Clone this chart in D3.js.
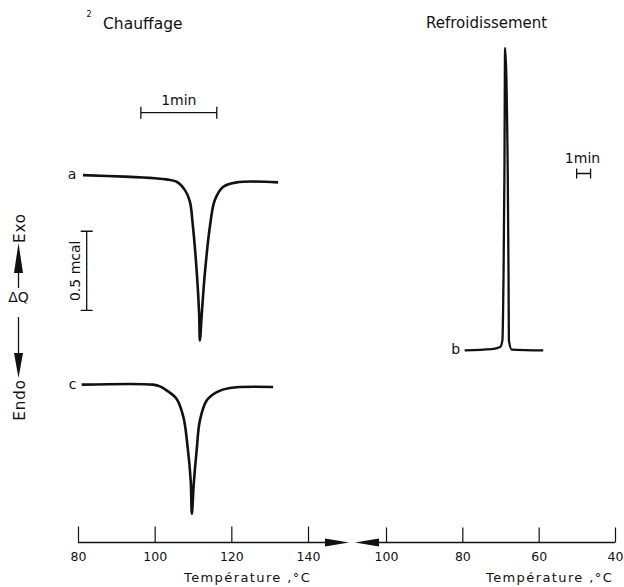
<!DOCTYPE html>
<html><head><meta charset="utf-8">
<script src="https://cdn.jsdelivr.net/npm/d3@7"></script>
<style>
body{margin:0;background:#fff}
svg{display:block}
text{font-family:"DejaVu Sans",sans-serif;fill:#111}
</style>
</head><body><svg id="c" width="624" height="587"></svg>
<script>
// ---- data ----
const heatTicks = [80, 100, 120, 140];
const coolTicks = [100, 80, 60, 40];
// curve a (heating), temperature °C / ΔQ (mcal, arbitrary offset)
const curveA_T = [81.3, 92.3, 100.0, 103.1, 105.7, 107.9, 109.2, 109.9, 111.0, 111.6, 111.8, 112.3, 113.1, 114.4, 115.7, 117.9, 121.4, 132.2];
const curveA_Q = [2.323, 2.313, 2.303, 2.296, 2.281, 2.228, 2.154, 2.019, 1.703, 1.449, 1.278, 1.449, 1.703, 1.996, 2.165, 2.249, 2.277, 2.277];
// curve c (heating)
const curveC_T = [80.96, 99.6, 101.4, 103.1, 105.7, 107.5, 108.6, 109.4, 109.7, 110.2, 110.95, 111.8, 113.6, 116.2, 119.6, 130.9];
const curveC_Q = [0.998, 0.998, 0.987, 0.962, 0.909, 0.793, 0.603, 0.392, 0.182, 0.372, 0.582, 0.772, 0.899, 0.951, 0.977, 0.983];
// curve b (cooling)
const curveB_T = [79.4, 72.3, 70.1, 69.5, 69.2, 68.97, 68.8, 68.1, 67.9, 67.8, 67.06, 58.8];
const curveB_Q = [1.215, 1.222, 1.236, 1.278, 1.703, 2.335, 3.127, 2.335, 1.703, 1.278, 1.220, 1.215];
const curveLabels = ["a", "b", "c"];
const titles = ["Chauffage", "Refroidissement"];
const axisTitle = "Température ,°C";

// ---- scales ----
const svg = d3.select("#c");
const xH = d3.scaleLinear().domain([80, 140]).range([78, 308]);
const xC = d3.scaleLinear().domain([100, 40]).range([386, 615]);
const y = d3.scaleLinear().domain([0, 3.43]).range([542.5, 0]);
const axisY = y(0);
const ink = "#111";

const zip = (T, Q) => T.map((t, i) => ({t, q: Q[i]}));
const lineH = d3.line().x(d => xH(d.t)).y(d => y(d.q)).curve(d3.curveCatmullRom.alpha(0.5));
const lineC = d3.line().x(d => xC(d.t)).y(d => y(d.q)).curve(d3.curveMonotoneX);

const dataA = zip(curveA_T, curveA_Q);
const dataC = zip(curveC_T, curveC_Q);
const dataB = zip(curveB_T, curveB_Q);

svg.append("path").datum(dataA).attr("d", lineH).attr("fill", "none").attr("stroke", ink).attr("stroke-width", 2.6).attr("stroke-linejoin", "round");
svg.append("path").datum(dataC).attr("d", lineH).attr("fill", "none").attr("stroke", ink).attr("stroke-width", 2.6).attr("stroke-linejoin", "round");
svg.append("path").datum(dataB).attr("d", lineC).attr("fill", "none").attr("stroke", ink).attr("stroke-width", 2.3).attr("stroke-linejoin", "round");

// curve labels
svg.append("text").text(curveLabels[0]).attr("x", xH(dataA[0].t) - 11).attr("y", y(dataA[0].q) + 4).attr("text-anchor", "middle").style("font-size", "14px");
svg.append("text").text(curveLabels[1]).attr("x", xC(dataB[0].t) - 9).attr("y", y(dataB[0].q) + 4).attr("text-anchor", "middle").style("font-size", "14px");
svg.append("text").text(curveLabels[2]).attr("x", xH(dataC[0].t) - 9).attr("y", y(dataC[0].q) + 4).attr("text-anchor", "middle").style("font-size", "14px");

// ---- axes ----
function styleAxis(g) {
  g.select(".domain").remove();
  g.selectAll(".tick line").attr("stroke", ink).attr("stroke-width", 1.2);
  g.selectAll(".tick text").style("font-size", "12.5px").style("font-family", "DejaVu Sans").attr("fill", ink);
}
svg.append("g").attr("transform", `translate(0,${axisY})`)
  .call(d3.axisBottom(xH).tickValues(heatTicks).tickSize(-16).tickPadding(10).tickFormat(d3.format("d")))
  .call(styleAxis);
svg.append("g").attr("transform", `translate(0,${axisY})`)
  .call(d3.axisBottom(xC).tickValues(coolTicks).tickSize(-15).tickPadding(10).tickFormat(d3.format("d")))
  .call(styleAxis);

// axis base lines and break arrows
svg.append("line").attr("x1", xH(80)).attr("x2", 326).attr("y1", axisY).attr("y2", axisY).attr("stroke", ink).attr("stroke-width", 1.3);
svg.append("line").attr("x1", 378).attr("x2", xC(40)).attr("y1", axisY).attr("y2", axisY).attr("stroke", ink).attr("stroke-width", 1.3);
svg.append("path").attr("d", `M325,${axisY - 4}L349,${axisY}L325,${axisY + 4}Z`).attr("fill", ink);
svg.append("path").attr("d", `M379,${axisY - 4}L355,${axisY}L379,${axisY + 4}Z`).attr("fill", ink);

// axis titles
svg.append("text").text(axisTitle).attr("x", 184).attr("y", 582).style("font-size", "13px").style("letter-spacing", "1.4px");
svg.append("text").text(axisTitle).attr("x", 486).attr("y", 582).style("font-size", "13px").style("letter-spacing", "1.4px");

// panel titles
svg.append("text").text("2").attr("x", 89).attr("y", 17).attr("text-anchor", "middle").style("font-size", "8px");
svg.append("text").text(titles[0]).attr("x", 103).attr("y", 29).style("font-size", "15.5px");
svg.append("text").text(titles[1]).attr("x", 426).attr("y", 28).style("font-size", "15px");

// ---- scale bars ----
// 1 min, heating
const barY1 = 112.7;
svg.append("path").attr("d", `M${xH(96.4)},${barY1}H${xH(116.2)}M${xH(96.4)},${barY1 - 6}V${barY1 + 6}M${xH(116.2)},${barY1 - 6}V${barY1 + 6}`)
  .attr("stroke", ink).attr("stroke-width", 1.3).attr("fill", "none");
svg.append("text").text("1min").attr("x", (xH(96.4) + xH(116.2)) / 2).attr("y", 105).attr("text-anchor", "middle").style("font-size", "14px");
// 1 min, cooling
const barY2 = 173.5;
svg.append("path").attr("d", `M${xC(50.05)},${barY2}H${xC(46.4)}M${xC(50.05)},${barY2 - 5}V${barY2 + 5}M${xC(46.4)},${barY2 - 5}V${barY2 + 5}`)
  .attr("stroke", ink).attr("stroke-width", 1.3).attr("fill", "none");
svg.append("text").text("1min").attr("x", 582.5).attr("y", 163).attr("text-anchor", "middle").style("font-size", "14px");
// 0.5 mcal
const barX = 86.7;
svg.append("path").attr("d", `M${barX},${y(1.468)}V${y(1.968)}M${barX - 6},${y(1.468)}H${barX + 6}M${barX - 6},${y(1.968)}H${barX + 6}`)
  .attr("stroke", ink).attr("stroke-width", 1.3).attr("fill", "none");
svg.append("text").text("0.5 mcal").attr("transform", `translate(80,${(y(1.468) + y(1.968)) / 2}) rotate(-90)`).attr("text-anchor", "middle").style("font-size", "14px");

// ---- ΔQ label with Endo / Exo arrows ----
const ax = 18.5;
svg.append("text").text("Exo").attr("transform", `translate(25,228) rotate(-90)`).attr("text-anchor", "middle").style("font-size", "15px").style("letter-spacing", "1px");
svg.append("path").attr("d", `M${ax},243L${ax + 4.5},273L${ax - 4.5},273Z`).attr("fill", ink);
svg.append("line").attr("x1", ax).attr("x2", ax).attr("y1", 273).attr("y2", 288).attr("stroke", ink).attr("stroke-width", 1.3);
svg.append("text").text("ΔQ").attr("x", ax).attr("y", 302).attr("text-anchor", "middle").style("font-size", "14px");
svg.append("line").attr("x1", ax).attr("x2", ax).attr("y1", 317).attr("y2", 353).attr("stroke", ink).attr("stroke-width", 1.3);
svg.append("path").attr("d", `M${ax - 4.5},353L${ax + 4.5},353L${ax},378Z`).attr("fill", ink);
svg.append("text").text("Endo").attr("transform", `translate(25,400) rotate(-90)`).attr("text-anchor", "middle").style("font-size", "15px").style("letter-spacing", "1px");
</script>
</body></html>
